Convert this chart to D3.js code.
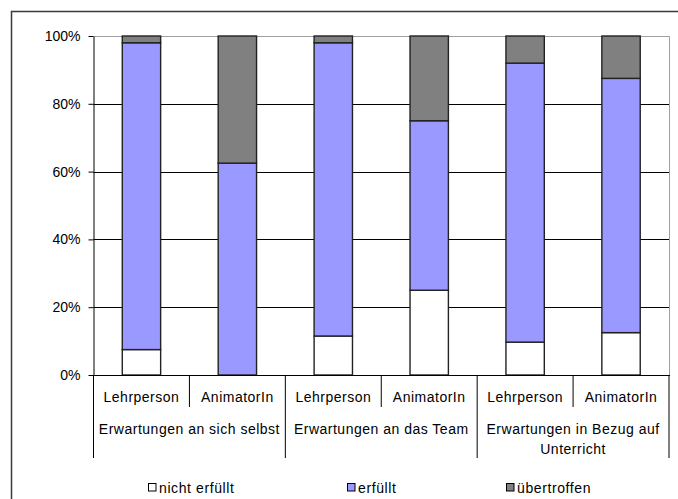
<!DOCTYPE html>
<html>
<head>
<meta charset="utf-8">
<script src="https://cdn.jsdelivr.net/npm/d3@7"></script>
<style>
  html, body { margin: 0; padding: 0; background: #fff; }
  svg { display: block; font-family: "Liberation Sans", Arial, sans-serif; }
</style>
</head>
<body>
<svg id="chart" width="678" height="499"></svg>
<script>
// Rollen je Balken und Erwartungsgruppen
const categories = ["Lehrperson", "AnimatorIn", "Lehrperson", "AnimatorIn", "Lehrperson", "AnimatorIn"];
const groups = [["Erwartungen an sich selbst"], ["Erwartungen an das Team"], ["Erwartungen in Bezug auf", "Unterricht"]];

// Anteile in Prozent
const nichtErfuellt = [7.5, 0, 11.5, 25, 9.7, 12.5];
const erfuellt = [90.5, 62.5, 86.5, 50, 82.3, 75];
const uebertroffen = [2, 37.5, 2, 25, 8, 12.5];

const seriesNames = ["nicht erfüllt", "erfüllt", "übertroffen"];
const seriesColors = ["#ffffff", "#9999ff", "#808080"];
const yTicks = [0, 20, 40, 60, 80, 100];

const svg = d3.select("#chart");
const plot = { left: 93.5, top: 36, right: 669, bottom: 375 };

// Rahmen um das Diagramm
svg.append("path")
  .attr("d", `M11.5,499 V11.5 H678`)
  .attr("fill", "none").attr("stroke", "#3a3a3a").attr("stroke-width", 1.5);

const idx = d3.range(categories.length);
const x = d3.scaleBand().domain(idx).range([plot.left, plot.right])
  .paddingInner(0.6).paddingOuter(0.3);
const y = d3.scaleLinear().domain([0, 100]).range([plot.bottom, plot.top]);

// Plotbereich-Rand oben und rechts
svg.append("path")
  .attr("d", `M${plot.left},${plot.top + 0.5} H${plot.right + 0.5} V${plot.bottom}`)
  .attr("fill", "none").attr("stroke", "#a0a0a0").attr("stroke-width", 1);

// Hilfslinien
svg.append("g").selectAll("line")
  .data(yTicks.filter(t => t > 0 && t < 100))
  .join("line")
  .attr("x1", plot.left).attr("x2", plot.right)
  .attr("y1", d => Math.round(y(d)) + 0.5).attr("y2", d => Math.round(y(d)) + 0.5)
  .attr("stroke", "#000").attr("stroke-width", 1);

// Gestapelte Balken
const rows = idx.map(i => ({ i, "nicht erfüllt": nichtErfuellt[i], "erfüllt": erfuellt[i], "übertroffen": uebertroffen[i] }));
const stacked = d3.stack().keys(seriesNames)(rows);

svg.append("g").selectAll("g")
  .data(stacked)
  .join("g")
  .attr("fill", (d, k) => seriesColors[k])
  .selectAll("rect")
  .data(d => d.filter(s => s[1] - s[0] > 0))
  .join("rect")
  .attr("x", d => x(d.data.i))
  .attr("width", x.bandwidth())
  .attr("y", d => y(d[1]))
  .attr("height", d => y(d[0]) - y(d[1]))
  .attr("stroke", "#222")
  .attr("stroke-width", 1.4);

// Y-Achse
const yAxis = svg.append("g")
  .attr("transform", `translate(${plot.left},0)`)
  .call(d3.axisLeft(y).tickValues(yTicks).tickFormat(d => d + "%").tickSize(5).tickSizeOuter(0));
yAxis.select(".domain").attr("stroke", "#000");
yAxis.selectAll(".tick line").attr("stroke", "#000");
yAxis.selectAll(".tick text")
  .attr("x", -13)
  .attr("font-size", 14)
  .attr("font-family", "'Liberation Sans', Arial, sans-serif")
  .attr("fill", "#000");

// Achsenlinie bis unter die Gruppenbeschriftung
svg.append("line")
  .attr("x1", plot.left).attr("x2", plot.left)
  .attr("y1", plot.bottom).attr("y2", 458)
  .attr("stroke", "#000");

// X-Achse (Grundlinie)
svg.append("line")
  .attr("x1", plot.left).attr("x2", plot.right + 1)
  .attr("y1", plot.bottom + 0.5).attr("y2", plot.bottom + 0.5)
  .attr("stroke", "#000").attr("stroke-width", 1.2);

const step = x.step();
const slotStart = i => x(i) - x.paddingOuter() * step;

// Trennstriche zwischen den Rollen und den Gruppen
const seps = d3.range(1, categories.length + 1);
svg.append("g").selectAll("line")
  .data(seps)
  .join("line")
  .attr("x1", i => slotStart(0) + i * step)
  .attr("x2", i => slotStart(0) + i * step)
  .attr("y1", plot.bottom)
  .attr("y2", i => (i % 2 === 0 ? 458 : 407))
  .attr("stroke", "#000");

// Rollenbeschriftung
svg.append("g").selectAll("text")
  .data(idx)
  .join("text")
  .attr("x", i => slotStart(i) + step / 2)
  .attr("y", 401.5)
  .attr("text-anchor", "middle")
  .attr("font-size", 14)
  .attr("letter-spacing", 0.5)
  .text(i => categories[i]);

// Gruppenbeschriftung
svg.append("g").selectAll("text")
  .data(groups)
  .join("text")
  .attr("x", (g, j) => slotStart(2 * j) + step)
  .attr("y", 433.5)
  .attr("text-anchor", "middle")
  .attr("font-size", 14)
  .attr("letter-spacing", 0.5)
  .selectAll("tspan")
  .data(g => g)
  .join("tspan")
  .attr("x", function () { return this.parentNode.getAttribute("x"); })
  .attr("dy", (d, k) => (k === 0 ? 0 : 20))
  .text(d => d);

// Legende
const legendX = [148.5, 347.5, 506.5];
const legend = svg.append("g").selectAll("g")
  .data(seriesNames)
  .join("g")
  .attr("transform", (d, k) => `translate(${legendX[k]},483.5)`);
legend.append("rect")
  .attr("width", 7.5).attr("height", 7.5)
  .attr("fill", (d, k) => seriesColors[k])
  .attr("stroke", "#000").attr("stroke-width", 1);
legend.append("text")
  .attr("x", 10.5).attr("y", 9.5)
  .attr("font-size", 14)
  .attr("letter-spacing", 0.6)
  .text(d => d);
</script>
</body>
</html>
